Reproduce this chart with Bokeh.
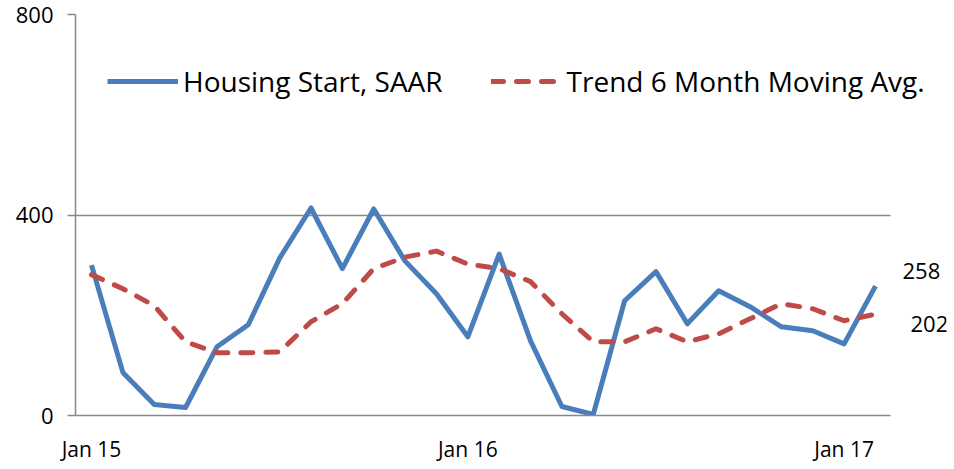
from bokeh.plotting import figure
from bokeh.models import ColumnDataSource, FixedTicker, Legend, LegendItem, Label, Range1d
from bokeh.embed import file_html
from bokeh.resources import INLINE

months = ["Jan 15", "Feb 15", "Mar 15", "Apr 15", "May 15", "Jun 15", "Jul 15", "Aug 15",
          "Sep 15", "Oct 15", "Nov 15", "Dec 15", "Jan 16", "Feb 16", "Mar 16", "Apr 16",
          "May 16", "Jun 16", "Jul 16", "Aug 16", "Sep 16", "Oct 16", "Nov 16", "Dec 16",
          "Jan 17", "Feb 17"]
housing_starts = [300, 86, 22, 16, 137, 181, 314, 414, 293, 412, 308, 243, 157,
                  322, 149, 18, 2, 229, 287, 183, 249, 217, 177, 169, 143, 258]
trend_6m = [281, 253, 219, 147, 125, 125, 127, 187, 223, 293, 316, 328, 302,
            293, 267, 203, 147, 147, 173, 147, 163, 193, 223, 213, 189, 202]
x_tick_labels = {0: "Jan 15", 12: "Jan 16", 24: "Jan 17"}
y_ticks = [0, 400, 800]

FONT = "Open Sans"
BLUE = "#4a7ebb"
RED = "#be4b48"
GRID = "#888888"

idx = list(range(len(months)))
src = ColumnDataSource(data=dict(x=idx, month=months, hs=housing_starts, tr=trend_6m))

n = len(months)
x_start = -0.51
x_end = x_start + 871 / 31.36   # extra room on the right for the end labels
p = figure(width=950, height=465, output_backend="svg", toolbar_location=None,
           x_range=Range1d(x_start, x_end), y_range=Range1d(0, 800),
           min_border_left=75, min_border_right=4, min_border_top=14, min_border_bottom=47)
p.outline_line_color = None
p.background_fill_color = "white"
p.border_fill_color = "white"

r1 = p.line("x", "hs", source=src, line_color=BLUE, line_width=5, line_join="round")
r2 = p.line("x", "tr", source=src, line_color=RED, line_width=5, line_dash="12 13",
            line_cap="round", line_join="round")

p.xgrid.visible = False
p.ygrid.grid_line_color = GRID
p.ygrid.grid_line_width = 1.5
p.ygrid.cross_bounds = (x_start, n - 0.52)

p.yaxis.ticker = FixedTicker(ticks=y_ticks)
p.yaxis.minor_tick_line_color = None
p.yaxis.major_tick_out = 8
p.yaxis.major_tick_in = 0
p.yaxis.major_tick_line_color = GRID
p.yaxis.major_tick_line_width = 1.5
p.yaxis.axis_line_color = GRID
p.yaxis.axis_line_width = 1.5
p.yaxis.major_label_text_font = FONT
p.yaxis.major_label_text_font_size = "22px"
p.yaxis.major_label_text_color = "black"
p.yaxis.major_label_standoff = 14

p.xaxis.ticker = FixedTicker(ticks=list(x_tick_labels.keys()))
p.xaxis.major_label_overrides = x_tick_labels
p.xaxis.bounds = (x_start, n - 0.52)
p.xaxis.minor_tick_line_color = None
p.xaxis.major_tick_out = 0
p.xaxis.major_tick_in = 0
p.xaxis.axis_line_color = GRID
p.xaxis.axis_line_width = 1.5
p.xaxis.major_label_text_font = FONT
p.xaxis.major_label_text_font_size = "21px"
p.xaxis.major_label_text_color = "black"
p.xaxis.major_label_standoff = 19

legend = Legend(items=[LegendItem(label="Housing Start, SAAR", renderers=[r1]),
                       LegendItem(label="Trend 6 Month Moving Avg.", renderers=[r2])],
                orientation="horizontal", location=(32, 315))
legend.padding = 0
legend.margin = 0
legend.spacing = 48
legend.glyph_width = 71
legend.glyph_height = 32
legend.label_height = 32
legend.label_standoff = 5
legend.label_text_font = FONT
legend.label_text_font_size = "28px"
legend.label_text_color = "black"
legend.border_line_color = None
legend.background_fill_alpha = 0
p.add_layout(legend, "center")

p.add_layout(Label(x=idx[-1], y=housing_starts[-1], text=str(housing_starts[-1]),
                   x_offset=27, y_offset=15, text_baseline="middle",
                   text_font=FONT, text_font_size="22px", text_color="black"))
p.add_layout(Label(x=idx[-1], y=trend_6m[-1], text=str(trend_6m[-1]),
                   x_offset=35, y_offset=-10, text_baseline="middle",
                   text_font=FONT, text_font_size="22px", text_color="black"))

open("out.html", "w").write(file_html(p, INLINE))
